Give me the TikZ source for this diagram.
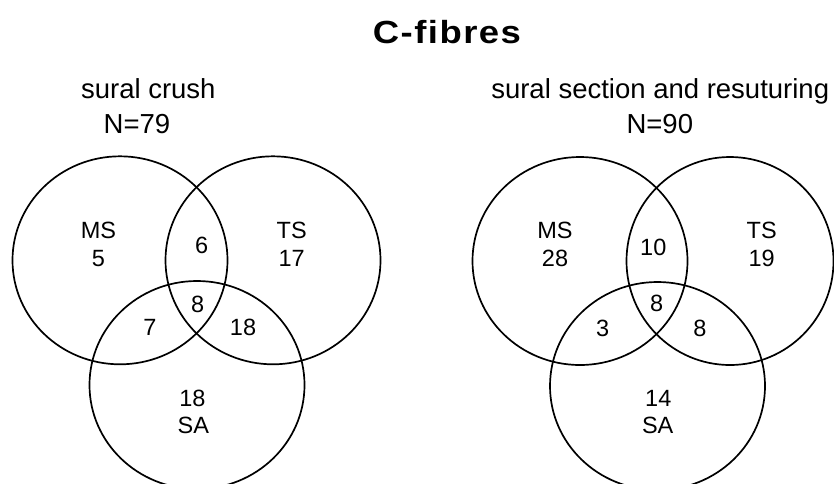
\documentclass[tikz,border=0pt]{standalone}
\usepackage{fontspec}
\setmainfont{Liberation Sans}
\newfontfamily\headfont{Liberation Sans}[LetterSpace=4]
\usetikzlibrary{shapes.geometric}
\usetikzlibrary{positioning}

\tikzset{
  venn/.style={ellipse, draw, line width=1.7pt, inner sep=0pt,
    minimum width=215pt, minimum height=208pt},
  lbl/.style={anchor=base, inner sep=0pt,
    font=\fontsize{23.5}{28}\selectfont},
  caption/.style={anchor=base, inner sep=0pt,
    font=\fontsize{27.5}{33}\selectfont}
}

\begin{document}
\begin{tikzpicture}[x=1pt, y=-1pt, on grid]
    \useasboundingbox (0,0) rectangle (834,483);

    % TITLE
    \node[anchor=base, inner sep=0pt,
      font=\headfont\bfseries\fontsize{32}{38}\selectfont] (TITLE) at (447,43.3)
    {\scalebox{1.14}[1]{C-fibres}};

    % SURAL CRUSH
    \node[caption] (CRUSH_NAME) at (148.3,98.3) {sural crush};
    \node[caption] (CRUSH_N) at (137,133.3) {N=79};

    \node[venn] (CRUSH_MS) at (120,260.3) {};
    \node[venn,
      right=153pt of CRUSH_MS] (CRUSH_TS) {};
    \node[venn,
      below right=124.7pt and 77pt of CRUSH_MS] (CRUSH_SA) {};

    \node[lbl] (CRUSH_MS_NAME) at (98.4,238.5) {MS};
    \node[lbl] (CRUSH_MS_ONLY) at (98.3,266) {5};
    \node[lbl] (CRUSH_TS_NAME) at (291.7,238.3) {TS};
    \node[lbl] (CRUSH_TS_ONLY) at (291.7,266) {17};
    \node[lbl] (CRUSH_MS_TS) at (201.7,253.3) {6};
    \node[lbl] (CRUSH_ALL) at (197.7,312) {8};
    \node[lbl] (CRUSH_MS_SA) at (150,335) {7};
    \node[lbl] (CRUSH_TS_SA) at (243,335) {18};
    \node[lbl] (CRUSH_SA_ONLY) at (192.5,406.7) {18};
    \node[lbl] (CRUSH_SA_NAME) at (193.3,433.3) {SA};

    % SURAL SECTION AND RESUTURING
    \node[caption] (SECTION_NAME) at (660.2,98.3) {sural section and resuturing};
    \node[caption] (SECTION_N) at (659.8,133.3) {N=90};

    \node[venn] (SECTION_MS) at (580,261) {};
    \node[venn,
      minimum width=207pt,
      right=150pt of SECTION_MS] (SECTION_TS) {};
    \node[venn,
      below right=125pt and 77.5pt of SECTION_MS] (SECTION_SA) {};

    \node[lbl] (SECTION_MS_NAME) at (555,238.3) {MS};
    \node[lbl] (SECTION_MS_ONLY) at (555,266) {28};
    \node[lbl] (SECTION_TS_NAME) at (761.7,238.3) {TS};
    \node[lbl] (SECTION_TS_ONLY) at (761.7,266) {19};
    \node[lbl] (SECTION_MS_TS) at (653.3,255) {10};
    \node[lbl] (SECTION_ALL) at (656.7,311.7) {8};
    \node[lbl] (SECTION_MS_SA) at (602.7,336) {3};
    \node[lbl] (SECTION_TS_SA) at (700,336) {8};
    \node[lbl] (SECTION_SA_ONLY) at (658.3,406.7) {14};
    \node[lbl] (SECTION_SA_NAME) at (657.7,433.3) {SA};
  \end{tikzpicture}
\end{document}
